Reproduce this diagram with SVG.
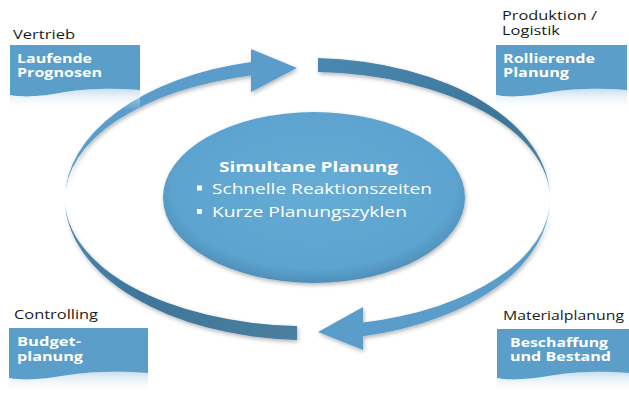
<svg xmlns="http://www.w3.org/2000/svg" width="629" height="393" viewBox="0 0 629 393">
<defs>
<style>
.lbl{font-family:"Open Sans","Noto Sans","Liberation Sans",sans-serif;font-size:12px;fill:#1a1a1a}
.bt{font-family:"Open Sans","Noto Sans","Liberation Sans",sans-serif;font-size:13px;font-weight:bold;fill:#ffffff}
.ct{font-family:"Open Sans","Noto Sans","Liberation Sans",sans-serif;font-size:14px;fill:#ffffff}
.doc{fill:#5a9ec9}
.refl{fill:url(#reflG)}
.light{fill:#5a9dca}
</style>
<linearGradient id="reflG" x1="0" y1="0" x2="0" y2="1">
<stop offset="0" stop-color="#b9d6ea" stop-opacity="0.8"/>
<stop offset="1" stop-color="#ffffff" stop-opacity="0"/>
</linearGradient>
<linearGradient id="darkTR" x1="0" y1="0" x2="1" y2="1">
<stop offset="0" stop-color="#4a88b1"/>
<stop offset="0.6" stop-color="#3d7599"/>
<stop offset="1" stop-color="#4b89b1"/>
</linearGradient>
<linearGradient id="darkBL" x1="0" y1="0" x2="1" y2="1">
<stop offset="0" stop-color="#4e8db6"/>
<stop offset="0.5" stop-color="#3f7599"/>
<stop offset="1" stop-color="#4a7f9f"/>
</linearGradient>
<radialGradient id="ellG" cx="0.5" cy="0.45" r="0.55">
<stop offset="0" stop-color="#66acd6"/>
<stop offset="0.85" stop-color="#5ca3cf"/>
<stop offset="1" stop-color="#4f8fb8"/>
</radialGradient>
<filter id="sh" x="-10%" y="-10%" width="120%" height="130%">
<feGaussianBlur in="SourceAlpha" stdDeviation="2"/>
<feOffset dx="1" dy="2" result="b"/>
<feComponentTransfer><feFuncA type="linear" slope="0.3"/></feComponentTransfer>
<feMerge><feMergeNode/><feMergeNode in="SourceGraphic"/></feMerge>
</filter>
</defs>
<rect width="629" height="393" fill="#ffffff"/>

<g id="connectors" filter="url(#sh)">
<path class="light" d="M65,199 A242.5,141 0 0 1 251,62 L251,49 L297,68 L251,92 L251,75.5 A242.5,127 0 0 0 65,199 Z"/>
<path fill="url(#darkTR)" d="M318,58 A242.5,141 0 0 1 550,199 A242.5,127 0 0 0 318,72 Z"/>
<path fill="url(#darkBL)" d="M65,199 A242.5,141 0 0 0 297,340 L297,326 A242.5,127 0 0 1 65,199 Z"/>
<path class="light" d="M550,199 A242.5,141 0 0 1 363,336.3 L363,350 L318,332 L363,307 L363,322.6 A242.5,127 0 0 0 550,199 Z"/>
</g>

<g id="center">
<ellipse cx="314" cy="197.5" rx="151" ry="85.5" fill="url(#ellG)" filter="url(#sh)"/>
<text class="ct" x="219" y="171.5" font-weight="bold" textLength="179" lengthAdjust="spacingAndGlyphs">Simultane Planung</text>
<rect x="197" y="185.5" width="5" height="5" fill="#ffffff"/>
<text class="ct" x="212" y="194" textLength="220" lengthAdjust="spacingAndGlyphs">Schnelle Reaktionszeiten</text>
<rect x="197" y="209" width="5" height="5" fill="#ffffff"/>
<text class="ct" x="212" y="216.5" textLength="195" lengthAdjust="spacingAndGlyphs">Kurze Planungszyklen</text>
</g>

<g id="vertrieb">
<text class="lbl" x="13" y="39" textLength="62" lengthAdjust="spacingAndGlyphs">Vertrieb</text>
<path class="refl" d="M10,96 C25,98 45,96 65,92 C90,88 115,88 140,90 V110 H10 Z"/>
<path class="doc" d="M10,45 H140 V90 C115,88 90,88 65,92 C45,96 25,98 10,95 Z"/>
<text class="bt" x="17" y="62.5" textLength="75" lengthAdjust="spacingAndGlyphs">Laufende</text>
<text class="bt" x="17" y="77" textLength="85" lengthAdjust="spacingAndGlyphs">Prognosen</text>
</g>

<g id="produktion">
<text class="lbl" x="502" y="20" textLength="95" lengthAdjust="spacingAndGlyphs">Produktion /</text>
<text class="lbl" x="502" y="35" textLength="58" lengthAdjust="spacingAndGlyphs">Logistik</text>
<path class="refl" d="M496,96 C511,98 531,96 551,92 C576,88 601,88 627,90 V110 H496 Z"/>
<path class="doc" d="M496,45 H627 V90 C601,88 576,88 551,92 C531,96 511,98 496,95 Z"/>
<text class="bt" x="503" y="63" textLength="92" lengthAdjust="spacingAndGlyphs">Rollierende</text>
<text class="bt" x="503" y="77" textLength="66" lengthAdjust="spacingAndGlyphs">Planung</text>
</g>

<g id="controlling">
<text class="lbl" x="14" y="319" textLength="84" lengthAdjust="spacingAndGlyphs">Controlling</text>
<path class="refl" d="M9,379 C25,381 45,379 68,375 C95,371 120,371 148,373 V393 H9 Z"/>
<path class="doc" d="M9,328 H148 V373 C120,371 95,371 68,375 C45,379 25,381 9,378 Z"/>
<text class="bt" x="17" y="346" textLength="64" lengthAdjust="spacingAndGlyphs">Budget-</text>
<text class="bt" x="17" y="360.5" textLength="66" lengthAdjust="spacingAndGlyphs">planung</text>
</g>

<g id="material">
<text class="lbl" x="503" y="320" textLength="121" lengthAdjust="spacingAndGlyphs">Materialplanung</text>
<path class="refl" d="M497,379 C512,381 532,379 555,375 C580,371 605,371 629,373 V393 H497 Z"/>
<path class="doc" d="M497,329 H629 V373 C605,371 580,371 555,375 C532,379 512,381 497,378 Z"/>
<text class="bt" x="510" y="346.5" textLength="98" lengthAdjust="spacingAndGlyphs">Beschaffung</text>
<text class="bt" x="510" y="361" textLength="101" lengthAdjust="spacingAndGlyphs">und Bestand</text>
</g>
</svg>
